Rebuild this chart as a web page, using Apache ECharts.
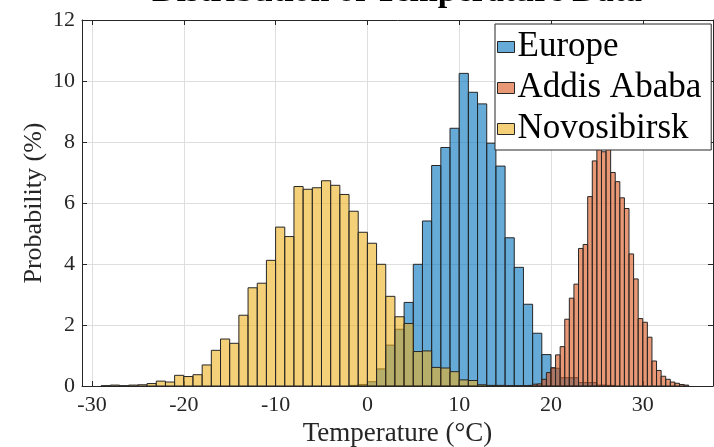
<!DOCTYPE html>
<html>
<head>
<meta charset="utf-8">
<script src="https://cdn.jsdelivr.net/npm/echarts@6/dist/echarts.min.js"></script>
<style>
    html, body {margin: 0; padding: 0; background: #fff;}
    #chart {width: 714px; height: 447px;}
</style>
</head>
<body>
<div id="chart"></div>
<script>
    // bin edges and probabilities (%)
    const europeEdges = [-2, -1, 0, 1, 2, 3, 4, 5, 6, 7, 8, 9, 10, 11, 12, 13, 14, 15, 16, 17, 18, 19, 20, 21, 22, 23, 24, 25, 26, 27];
    const europeValues = [0.02, 0.05, 0.14, 0.56, 1.34, 1.86, 2.74, 3.99, 5.41, 7.23, 7.82, 8.45, 10.25, 9.63, 9.25,
        7.96, 7.21, 4.86, 3.89, 2.68, 1.73, 1.03, 0.58, 0.27, 0.27, 0.11, 0.11, 0.03, 0.02];

    const addisEdges = [17.5, 18, 18.5, 19, 19.5, 20, 20.5, 21, 21.5, 22, 22.5, 23, 23.5, 24, 24.5, 25, 25.5, 26,
        26.5, 27, 27.5, 28, 28.5, 29, 29.5, 30, 30.5, 31, 31.5, 32, 32.5, 33, 33.5, 34, 34.5, 35];
    const addisValues = [0.02, 0.06, 0.07, 0.22, 0.44, 0.6, 1.02, 1.29, 2.19, 2.88, 3.34, 4.51, 4.64, 6.21, 7.38,
        7.9, 7.68, 8.0, 7.0, 6.7, 6.17, 5.82, 4.33, 3.51, 2.21, 2.09, 1.6, 0.82, 0.51, 0.32, 0.22, 0.13, 0.09, 0.05, 0.03];

    const novosibirskEdges = [-29, -28, -27, -26, -25, -24, -23, -22, -21, -20, -19, -18, -17, -16, -15, -14, -13, -12,
        -11, -10, -9, -8, -7, -6, -5, -4, -3, -2, -1, 0, 1, 2, 3, 4, 5, 6, 7, 8, 9, 10, 11, 12, 13, 14, 15, 16, 17, 18];
    const novosibirskValues = [0.01, 0.03, 0.01, 0.03, 0.04, 0.08, 0.16, 0.13, 0.35, 0.31, 0.37, 0.69, 1.17, 1.54, 1.4,
        2.32, 3.22, 3.37, 4.12, 5.21, 4.9, 6.54, 6.45, 6.5, 6.73, 6.58, 6.28, 5.73, 5.04, 4.68, 3.99, 2.94, 2.27, 2.05,
        1.13, 1.15, 0.61, 0.59, 0.47, 0.2, 0.18, 0.04, 0.02, 0.02, 0.01, 0.01, 0.01];

    const xTicks = [-30, -20, -10, 0, 10, 20, 30];

    const serif = 'Liberation Serif';
    const axisColor = '#262626';

    //把边界和高度拼成 [左, 右, 高]
    const toBins = (edges, values) => values.map((v, i) => [edges[i], edges[i + 1], v]);

    const renderBin = (params, api) => {
        const p0 = api.coord([api.value(0), api.value(2)]);
        const p1 = api.coord([api.value(1), 0]);
        return {
            type: 'rect',
            shape: {x: p0[0], y: p0[1], width: p1[0] - p0[0], height: p1[1] - p0[1]},
            style: {fill: api.visual('color'), stroke: axisColor, lineWidth: 1}
        };
    };

    const histSeries = (name, color, edges, values) => ({
        type: 'custom',
        name: name,
        renderItem: renderBin,
        itemStyle: {color: color},
        encode: {x: [0, 1], y: 2},
        data: toBins(edges, values)
    });

    const chart = echarts.init(document.getElementById('chart'));
    const option = {
        animation: false,
        title: {
            text: 'Distribution of Temperature Data',
            left: 397,
            top: -25,
            padding: 0,
            textAlign: 'center',
            textStyle: {fontFamily: serif, fontSize: 34, fontWeight: 'bold', color: '#000', lineHeight: 34}
        },
        legend: {
            data: ['Europe', 'Addis Ababa', 'Novosibirsk'],
            orient: 'vertical',
            left: 495,
            top: 24,
            padding: [5, 10, 3, 2],
            itemGap: 5,
            itemWidth: 17,
            itemHeight: 11,
            icon: 'rect',
            backgroundColor: '#fff',
            borderColor: axisColor,
            borderWidth: 1,
            borderRadius: 0,
            itemStyle: {borderColor: axisColor, borderWidth: 1},
            textStyle: {fontFamily: serif, fontSize: 35, lineHeight: 36, color: '#000', padding: [0, 0, 0, -2]}
        },
        grid: {left: 82, top: 20, width: 631, height: 366, outerBoundsMode: 'none', containLabel: false},
        xAxis: [{
            type: 'value',
            min: -31.09,
            max: 37.65,
            name: 'Temperature (°C)',
            nameLocation: 'middle',
            nameGap: 34,
            nameMoveOverlap: false,
            nameTextStyle: {fontFamily: serif, fontSize: 27, lineHeight: 27, color: axisColor},
            axisLine: {onZero: false, lineStyle: {color: axisColor}},
            axisTick: {inside: true, length: 5, customValues: xTicks, lineStyle: {color: axisColor}},
            axisLabel: {customValues: xTicks, margin: 8, fontFamily: serif, fontSize: 22, color: axisColor},
            splitLine: {show: true, lineStyle: {color: '#dedede'}}
        }, {
            type: 'value',
            position: 'top',
            min: -31.09,
            max: 37.65,
            axisLine: {onZero: false, lineStyle: {color: axisColor}},
            axisTick: {inside: true, length: 5, customValues: xTicks, lineStyle: {color: axisColor}},
            axisLabel: {show: false},
            splitLine: {show: false}
        }],
        yAxis: [{
            type: 'value',
            min: 0,
            max: 12,
            interval: 2,
            name: 'Probability (%)',
            nameLocation: 'middle',
            nameGap: 35,
            nameMoveOverlap: false,
            nameTextStyle: {fontFamily: serif, fontSize: 26, lineHeight: 26, color: axisColor},
            axisLine: {show: true, onZero: false, lineStyle: {color: axisColor}},
            axisTick: {show: true, inside: true, length: 5, lineStyle: {color: axisColor}},
            axisLabel: {margin: 7, fontFamily: serif, fontSize: 22, color: axisColor},
            splitLine: {show: true, lineStyle: {color: '#dedede'}}
        }, {
            type: 'value',
            position: 'right',
            min: 0,
            max: 12,
            interval: 2,
            axisLine: {show: true, onZero: false, lineStyle: {color: axisColor}},
            axisTick: {show: true, inside: true, length: 5, lineStyle: {color: axisColor}},
            axisLabel: {show: false},
            splitLine: {show: false}
        }],
        series: [
            histSeries('Europe', 'rgba(0,114,189,0.6)', europeEdges, europeValues),
            histSeries('Addis Ababa', 'rgba(217,83,25,0.6)', addisEdges, addisValues),
            histSeries('Novosibirsk', 'rgba(237,177,32,0.6)', novosibirskEdges, novosibirskValues)
        ]
    };
    chart.setOption(option);
</script>
</body>
</html>
